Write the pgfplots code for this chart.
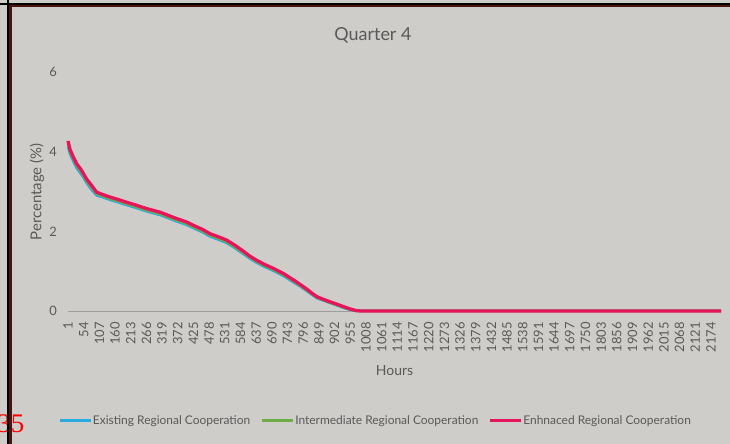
\documentclass[border=0pt]{standalone}
\usepackage{pgfplots}
\pgfplotsset{compat=1.18}
\usepackage{pgfplotstable}
\usepackage{fontspec}
\setmainfont{Lato}
\newfontfamily\pagefont{Liberation Serif}

\definecolor{bgcol}{RGB}{207,205,201}
\definecolor{txtcol}{RGB}{89,89,89}
\definecolor{color0}{RGB}{41,171,226}
\definecolor{color1}{RGB}{112,173,71}
\definecolor{color2}{RGB}{230,20,90}
\definecolor{framebrown}{RGB}{75,20,15}

% hours (sorted), share in %
\pgfplotstableread{
x    ex    im    en
1    4.12  4.20  4.27
8    3.93  3.99  4.05
20   3.74  3.80  3.85
30   3.59  3.65  3.70
45   3.44  3.50  3.55
53   3.35  3.40  3.45
65   3.20  3.25  3.30
81   3.04  3.10  3.15
98   2.90  2.94  2.98
120  2.85  2.88  2.92
143  2.79  2.82  2.86
170  2.73  2.76  2.80
199  2.66  2.69  2.73
230  2.59  2.62  2.66
267  2.50  2.53  2.57
312  2.41  2.44  2.48
340  2.33  2.36  2.40
368  2.25  2.28  2.32
400  2.17  2.20  2.24
425  2.08  2.11  2.15
455  1.98  2.01  2.05
481  1.87  1.90  1.94
510  1.79  1.82  1.86
537  1.71  1.74  1.78
565  1.58  1.61  1.65
594  1.43  1.46  1.50
615  1.32  1.35  1.38
639  1.21  1.24  1.27
665  1.11  1.14  1.17
695  1.01  1.04  1.07
729  0.88  0.91  0.94
763  0.72  0.75  0.78
785  0.62  0.64  0.67
808  0.50  0.52  0.55
825  0.41  0.43  0.45
842  0.32  0.34  0.36
865  0.26  0.27  0.29
887  0.20  0.21  0.23
910  0.14  0.15  0.17
932  0.08  0.09  0.11
955  0.03  0.04  0.05
975  0.00  0.01  0.01
990  0     0     0
2208 0     0     0
}\quarter

\begin{document}
\begin{tikzpicture}
\useasboundingbox (0bp,0bp) rectangle (730bp,444bp);
\fill[bgcol] (0bp,0bp) rectangle (730bp,444bp);
\node[red, font=\pagefont\fontsize{27}{29}\selectfont, anchor=base east, inner sep=0pt] at (24.5bp,12bp) {35};
\draw[black, line width=1.8bp] (0bp,440.3bp) -- (730bp,440.3bp);
\draw[black, line width=1.8bp] (8.2bp,0bp) -- (8.2bp,444bp);
\draw[framebrown, line width=2.6bp] (10.5bp,0bp) -- (10.5bp,438bp);
\draw[framebrown, line width=2.6bp] (9.2bp,438bp) -- (730bp,438bp);

\begin{axis}[
at={(68bp,133bp)}, anchor=south west,
scale only axis,
width=653bp, height=239bp,
xmin=1, xmax=2208,
ymin=0, ymax=6,
clip=false,
axis lines*=left,
y axis line style={draw=none},
x axis line style={color=black!38, line width=0.9bp},
major tick length=0pt,
xtick={1,54,107,160,213,266,319,372,425,478,531,584,637,690,743,796,849,902,955,1008,1061,1114,1167,1220,1273,1326,1379,1432,1485,1538,1591,1644,1697,1750,1803,1856,1909,1962,2015,2068,2121,2174},
ytick={0,2,4,6},
/pgf/number format/assume math mode=true,
/pgf/number format/1000 sep={},
xticklabel style={rotate=90, anchor=east, inner sep=0pt, font=\fontsize{13}{15}\selectfont, text=txtcol},
xticklabel shift=11bp,
yticklabel style={anchor=east, inner sep=0pt, font=\fontsize{13}{15}\selectfont, text=txtcol},
yticklabel shift=11bp,
title={Quarter 4},
title style={at={(axis description cs:0.467,1.13)}, anchor=center, font=\fontsize{18}{20}\selectfont, text=txtcol},
xlabel={Hours},
xlabel style={at={(axis description cs:0.5,-0.251)}, anchor=center, font=\fontsize{14}{16}\selectfont, text=txtcol},
ylabel={Percentage (\%)},
ylabel style={at={(axis description cs:-0.0475,0.498)}, anchor=center, font=\fontsize{15}{17}\selectfont, text=txtcol},
legend style={at={(axis description cs:0.470,-0.460)}, anchor=center, draw=none, fill=none,
  legend columns=3, font=\fontsize{12}{14}\selectfont, text=txtcol,
  /tikz/every even column/.append style={column sep=10bp},
  nodes={inner xsep=0.5bp, inner ysep=0pt}},
legend cell align=left,
legend image code/.code={\draw[#1, line width=3bp] (0bp,0bp) -- (31bp,0bp);},
]
\addplot[color0, line width=2.5bp, line join=round] table[x=x, y=ex] {\quarter};
\addlegendentry{Existing Regional Cooperation}
\addplot[color1, line width=2.5bp, line join=round] table[x=x, y=im] {\quarter};
\addlegendentry{Intermediate Regional Cooperation}
\addplot[color2, line width=3.3bp, line join=round] table[x=x, y=en] {\quarter};
\addlegendentry{Enhnaced Regional Cooperation}
\end{axis}
\end{tikzpicture}
\end{document}
